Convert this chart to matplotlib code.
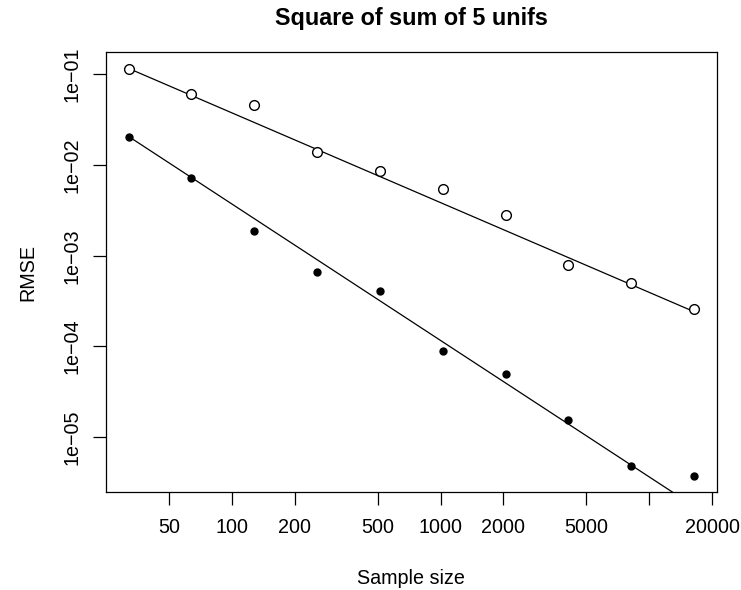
import numpy as np
import matplotlib
matplotlib.use("Agg")
import matplotlib.pyplot as plt
from matplotlib.ticker import FixedLocator, NullLocator, FixedFormatter

plt.rcParams['font.family'] = ['Liberation Sans', 'DejaVu Sans']

# sample sizes and RMSE values
sample_size = [32, 64, 128, 256, 512, 1024, 2048, 4096, 8192, 16384]
rmse_open = [0.1159, 0.0601, 0.0458, 0.0138, 0.00858, 0.00543, 0.00281,
             0.000788, 0.000499, 0.000262]
rmse_filled = [0.0205, 0.00723, 0.00190, 0.000656, 0.000412, 8.93e-5,
               5.03e-5, 1.54e-5, 4.77e-6, 3.73e-6]

# fitted lines, log10(rmse) = a + b*log10(n)
fit_open = (0.556, -0.990)
fit_filled = (0.581, -1.505)

xticks = [50, 100, 200, 500, 1000, 2000, 5000, 10000, 20000]
xticklabels = ["50", "100", "200", "500", "1000", "2000", "5000", "", "20000"]
yticks = [1e-1, 1e-2, 1e-3, 1e-4, 1e-5]
yticklabels = ["1e\u221201", "1e\u221202", "1e\u221203", "1e\u221204", "1e\u221205"]

W, H = 741, 590
fig = plt.figure(figsize=(W / 100, H / 100), dpi=100)
ax = fig.add_axes([106 / W, 1 - 492.3 / H, 610.7 / W, 440 / H])

n = np.array(sample_size, dtype=float)
ax.plot(n, rmse_open, 'o', mfc='white', mec='black', mew=1.0, ms=7.0, zorder=3)
ax.plot(n, rmse_filled, 'o', color='black', ms=5.0, zorder=3)

for a, b in (fit_open, fit_filled):
    ax.plot(n, 10 ** (a + b * np.log10(n)), color='black', lw=0.9)

ax.set_xscale('log')
ax.set_yscale('log')

# R style 4% extension of the ranges
def ext(vals):
    lo, hi = np.log10(min(vals)), np.log10(max(vals))
    d = 0.04 * (hi - lo)
    return 10 ** (lo - d), 10 ** (hi + d)

ax.set_xlim(*ext(sample_size))
ax.set_ylim(*ext(rmse_open + rmse_filled))

ax.xaxis.set_major_locator(FixedLocator(xticks))
ax.xaxis.set_major_formatter(FixedFormatter(xticklabels))
ax.xaxis.set_minor_locator(NullLocator())
ax.yaxis.set_major_locator(FixedLocator(yticks))
ax.yaxis.set_major_formatter(FixedFormatter(yticklabels))
ax.yaxis.set_minor_locator(NullLocator())

ax.tick_params(axis='both', direction='out', length=9.4, width=0.9, labelsize=14.2, color='black')
ax.tick_params(axis='x', pad=9.0)
ax.tick_params(axis='y', pad=8.5, labelrotation=90)
for lab in ax.get_yticklabels():
    lab.set_va('center')

for s in ax.spines.values():
    s.set_linewidth(0.9)

fig.text(0.555, 1 - 18 / H, "Square of sum of 5 unifs", ha='center', va='center',
         fontsize=16.8, fontweight='bold')
fig.text(0.555, 1 - 578 / H, "Sample size", ha='center', va='center', fontsize=14.2)
fig.text(28 / W, 1 - 272 / H, "RMSE", ha='center', va='center', rotation=90, fontsize=14.2)

fig.savefig("out.png", dpi=100)
